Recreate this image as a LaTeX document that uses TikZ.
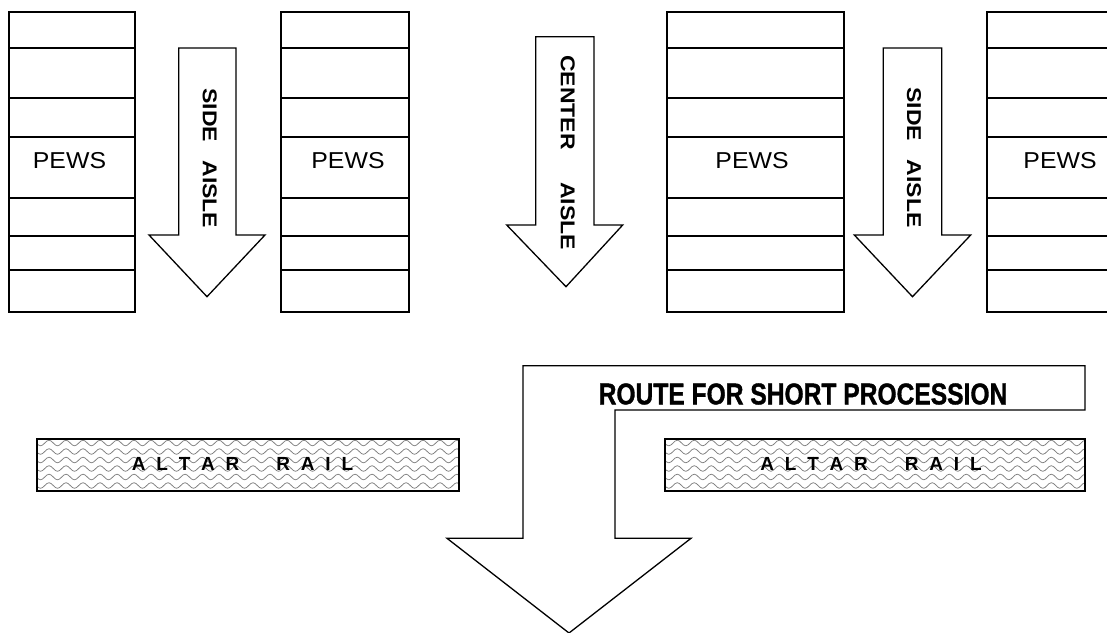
\documentclass[tikz,border=0pt]{standalone}
\usepackage{fontspec}
\setmainfont{Liberation Sans}
\newfontfamily\routefont{Liberation Sans}[BoldFeatures={FakeBold=1.3}]
\usetikzlibrary{decorations.pathmorphing}
\tikzset{
  outline/.style={draw=black, line width=1.8pt, line join=miter},
  arrowline/.style={draw=black, line width=1.3pt, line join=miter},
  pewtext/.style={font=\fontsize{23}{23}\selectfont, inner sep=0pt},
  aisletext/.style={font=\bfseries\fontsize{20}{20}\selectfont, rotate=-90, inner sep=0pt},
  railtext/.style={font=\bfseries\fontsize{19}{19}\selectfont, inner sep=0pt},
  routetext/.style={font=\routefont\bfseries\fontsize{30}{30}\selectfont, inner sep=0pt},
  wave/.style={draw=black!50, line width=0.75pt, decorate,
    decoration={snake, segment length=17pt, amplitude=2.8pt}},
}
\newcommand\pewblock[2]{%
  \draw[outline] (#1,12) rectangle (#2,312);
  \foreach \yy in {48,98,137,198,236,270} \draw[outline] (#1,\yy) -- (#2,\yy);
}
\newcommand\railletters{A\hspace{10.8pt}L\hspace{10.8pt}T\hspace{10.8pt}A\hspace{10.8pt}R\hspace{37pt}R\hspace{10.8pt}A\hspace{10.8pt}I\hspace{10.8pt}L}
\newcommand\railbox[2]{%
  \begin{scope}
    \clip (#1,439.3) rectangle (#2,490.7);
    \foreach \yy in {443,451.5,...,495} \draw[wave] (#1-10,\yy) -- (#2+10,\yy);
  \end{scope}
  \draw[outline] (#1,439.3) rectangle (#2,490.7);
}
\begin{document}
\begin{tikzpicture}[x=1pt,y=-1pt]
\useasboundingbox (0,0) rectangle (1107,632);
\fill[white] (0,0) rectangle (1107,632);

% pew blocks
\pewblock{9}{135}
\pewblock{281}{409}
\pewblock{667}{844}
\pewblock{986.7}{1120}
\node[pewtext] (pews1) at (69.5,161) {\scalebox{1.08}[1]{PEWS}};
\node[pewtext] (pews2) at (348,161) {\scalebox{1.08}[1]{PEWS}};
\node[pewtext] (pews3) at (752,161) {\scalebox{1.08}[1]{PEWS}};
\node[pewtext] (pews4) at (1060,161) {\scalebox{1.08}[1]{PEWS}};

% side aisle left
\draw[arrowline] (178.7,48) -- (236,48) -- (236,235) -- (265,235) -- (207,296.7)
  -- (149,235) -- (178.7,235) -- cycle;
\node[aisletext] (side1) at (209.7,158.3) {\scalebox{1.15}[1]{SIDE\hspace{16pt}AISLE}};

% center aisle
\draw[arrowline] (535.7,36.7) -- (594,36.7) -- (594,225) -- (622.7,225) -- (566,286.7)
  -- (506.7,225) -- (535.7,225) -- cycle;
\node[aisletext] (center) at (567.7,152.5) {\scalebox{1.15}[1]{CENTER\hspace{28pt}AISLE}};

% side aisle right
\draw[arrowline] (883.3,48) -- (941.7,48) -- (941.7,235) -- (970.7,235) -- (912.5,296.7)
  -- (854.3,235) -- (883.3,235) -- cycle;
\node[aisletext] (side2) at (914,157.5) {\scalebox{1.15}[1]{SIDE\hspace{16pt}AISLE}};

% altar rails
\railbox{36.7}{459}
\railbox{665}{1085}
\node[railtext] (rail1) at (242.5,464) {\railletters};
\node[railtext] (rail2) at (871,464) {\railletters};

% route for short procession
\draw[arrowline] (523,365.7) -- (1085,365.7) -- (1085,410) -- (615,410) -- (615,538.3)
  -- (691,538.3) -- (569,633) -- (447,538.3) -- (523,538.3) -- cycle;
\node[routetext] (route) at (803,394) {\scalebox{0.82}[1]{ROUTE FOR SHORT PROCESSION}};
\end{tikzpicture}
\end{document}
